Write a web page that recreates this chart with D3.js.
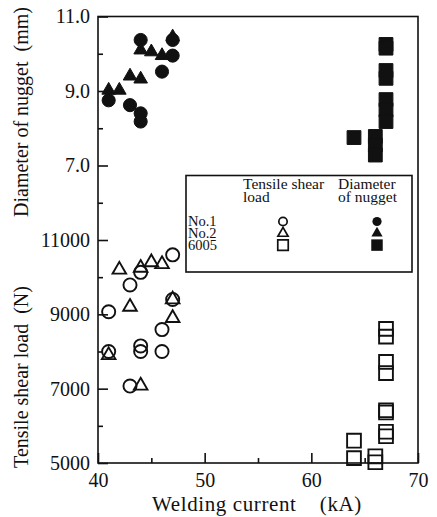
<!DOCTYPE html>
<html>
<head>
<meta charset="utf-8">
<script src="https://cdn.jsdelivr.net/npm/d3@7"></script>
<style>
  body { margin: 0; background: #fff; }
  text { font-family: "Liberation Serif", "Times New Roman", serif; fill: #111; }
</style>
</head>
<body>
<script>

// welding current (kA) vs nugget diameter (mm)
var no1Diameter  = [[41, 8.75], [43, 8.62], [44, 8.40], [44, 8.18], [44, 10.37], [46, 9.52], [47, 10.37], [47, 9.95]];
var no2Diameter  = [[41, 9.02], [42, 9.02], [43, 9.40], [44, 9.32], [44, 10.10], [45, 10.05], [46, 9.95], [47, 10.45]];
var a6005Diameter = [[64, 7.75], [66, 7.78], [66, 7.55], [66, 7.28], [67, 10.25], [67, 10.15], [67, 9.55], [67, 9.34],
                     [67, 8.77], [67, 8.49], [67, 8.18]];

// welding current (kA) vs tensile shear load (N)
var no1Load   = [[41, 9070], [41, 8000], [43, 9790], [43, 7070], [44, 10130], [44, 8150], [44, 8000],
                 [46, 8590], [46, 8000], [47, 10600], [47, 9400]];
var no2Load   = [[41, 7900], [42, 10200], [43, 9200], [44, 10250], [44, 7080], [45, 10400], [46, 10350],
                 [47, 9400], [47, 8900]];
var a6005Load = [[64, 5600], [64, 5130], [66, 5180], [66, 5020], [67, 8610], [67, 8400], [67, 7720], [67, 7420],
                 [67, 6420], [67, 6360], [67, 5840], [67, 5720]];

var xTicks        = [40, 50, 60, 70];
var xMinorTicks   = [45, 55, 65];
var diaTicks      = [7, 9, 11];
var diaMinorTicks = [6, 8, 10];
var loadTicks     = [5000, 7000, 9000, 11000];
var loadMinor     = [6000, 8000, 10000];

var legendRows    = ["No.1", "No.2", "6005"];

var W = 437, H = 517;
var pLeft = 98, pRight = 418, pTop = 16.5, pBottom = 463, pMid = 240;
var serif = "'Liberation Serif', 'Times New Roman', serif";

var svg = d3.select("body").append("svg")
    .attr("width", W)
    .attr("height", H);

var x     = d3.scaleLinear().domain([40, 70]).range([pLeft, pRight]);
var yDia  = d3.scaleLinear().domain([5, 11]).range([pMid, pTop]);
var yLoad = d3.scaleLinear().domain([5000, 11000]).range([pBottom, pMid]);

// frame
svg.append("rect")
    .attr("x", pLeft).attr("y", pTop)
    .attr("width", pRight - pLeft).attr("height", pBottom - pTop)
    .attr("fill", "none").attr("stroke", "#111").attr("stroke-width", 1.6);

function styleAxis(g) {
    g.attr("font-family", serif).attr("font-size", 20);
    g.select(".domain").remove();
    g.selectAll("line").attr("stroke", "#111").attr("stroke-width", 1.6);
    g.selectAll("text").attr("fill", "#111");
}

// left axes, ticks pointing in
svg.append("g").attr("transform", "translate(" + pLeft + ",0)")
    .call(d3.axisLeft(yDia).tickValues(diaTicks).tickSize(-10).tickPadding(8)
          .tickFormat(d3.format(".1f")))
    .call(styleAxis);
svg.append("g").attr("transform", "translate(" + pLeft + ",0)")
    .call(d3.axisLeft(yDia).tickValues(diaMinorTicks).tickSize(-5).tickFormat(""))
    .call(styleAxis);
svg.append("g").attr("transform", "translate(" + pLeft + ",0)")
    .call(d3.axisLeft(yLoad).tickValues(loadTicks).tickSize(-10).tickPadding(8)
          .tickFormat(d3.format("d")))
    .call(styleAxis);
svg.append("g").attr("transform", "translate(" + pLeft + ",0)")
    .call(d3.axisLeft(yLoad).tickValues(loadMinor).tickSize(-5).tickFormat(""))
    .call(styleAxis);

// bottom axis
svg.append("g").attr("transform", "translate(0," + pBottom + ")")
    .call(d3.axisBottom(x).tickValues(xTicks).tickSize(-10).tickPadding(10))
    .call(styleAxis);
svg.append("g").attr("transform", "translate(0," + pBottom + ")")
    .call(d3.axisBottom(x).tickValues(xMinorTicks).tickSize(-5).tickFormat(""))
    .call(styleAxis);

// axis titles
svg.append("text")
    .attr("transform", "translate(28," + 112 + ") rotate(-90)")
    .attr("text-anchor", "middle")
    .style("font-size", "20px")
    .attr("xml:space", "preserve")
    .text("Diameter of nugget  (mm)");
svg.append("text")
    .attr("transform", "translate(28," + 377 + ") rotate(-90)")
    .attr("text-anchor", "middle")
    .style("font-size", "20px")
    .attr("xml:space", "preserve")
    .text("Tensile shear load  (N)");
svg.append("text")
    .attr("x", 257).attr("y", 511)
    .attr("text-anchor", "middle")
    .style("font-size", "21px")
    .style("letter-spacing", "0.6px")
    .attr("xml:space", "preserve")
    .text("Welding current    (kA)");

// markers
var shapes = {
    circle:   { type: d3.symbolCircle,   size: 135 },
    triangle: { type: d3.symbolTriangle, size: 80 },
    square:   { type: d3.symbolSquare,   size: 190 }
};

function drawPoints(data, yScale, shape, filled) {
    var sym = d3.symbol().type(shapes[shape].type).size(shapes[shape].size);
    svg.append("g").selectAll("path")
        .data(data)
        .join("path")
        .attr("transform", function(d) { return "translate(" + x(d[0]) + "," + yScale(d[1]) + ")"; })
        .attr("d", sym)
        .attr("fill", filled ? "#111" : "none")
        .attr("stroke", "#111")
        .attr("stroke-width", filled ? 1 : 1.9);
}

drawPoints(no1Diameter,   yDia,  "circle",   true);
drawPoints(no2Diameter,   yDia,  "triangle", true);
drawPoints(a6005Diameter, yDia,  "square",   true);
drawPoints(no1Load,       yLoad, "circle",   false);
drawPoints(no2Load,       yLoad, "triangle", false);
drawPoints(a6005Load,     yLoad, "square",   false);

// legend
var lg = svg.append("g");
lg.append("rect")
    .attr("x", 186).attr("y", 175.5).attr("width", 226).attr("height", 96.5)
    .attr("fill", "#fff").attr("stroke", "#111").attr("stroke-width", 1.6);

var head = [["Tensile shear", 243, 189], ["load", 243, 202], ["Diameter", 338, 189], ["of nugget", 338, 202]];
lg.selectAll("text.head")
    .data(head)
    .join("text")
    .attr("class", "head")
    .attr("x", function(d) { return d[1]; })
    .attr("y", function(d) { return d[2]; })
    .style("font-size", "15.5px")
    .text(function(d) { return d[0]; });

var legendShapes = ["circle", "triangle", "square"];
var legendSizes  = [55, 45, 110];
legendRows.forEach(function(name, i) {
    var cy = 221.5 + i * 11.8;
    lg.append("text")
        .attr("x", 188).attr("y", cy + 4.5)
        .style("font-size", "14.5px")
        .text(name);
    var sym = d3.symbol().type(shapes[legendShapes[i]].type).size(legendSizes[i]);
    lg.append("path")
        .attr("transform", "translate(283," + cy + ")")
        .attr("d", sym)
        .attr("fill", "none").attr("stroke", "#111").attr("stroke-width", 1.7);
    lg.append("path")
        .attr("transform", "translate(377," + cy + ")")
        .attr("d", d3.symbol().type(shapes[legendShapes[i]].type).size(legendSizes[i] * 1.2))
        .attr("fill", "#111");
});

</script>
</body>
</html>
